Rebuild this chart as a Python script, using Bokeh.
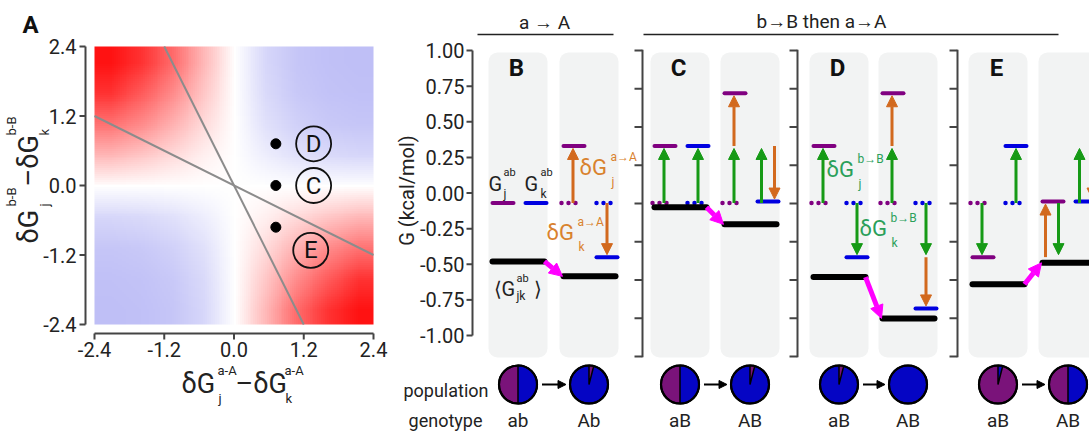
import base64
import struct
import zlib
import numpy as np
from bokeh.plotting import figure
from bokeh.models import (Range1d, Label, Arrow, NormalHead, ColumnDataSource)
from bokeh.core.properties import value
from bokeh.embed import file_html
from bokeh.resources import INLINE

FONT = "Roboto"

# ---------------- data: panel A ----------------
a_ticks = [-2.4, -1.2, 0.0, 1.2, 2.4]
# heat-map cells (rows top -> bottom, columns left -> right)
heat_rows = [
    [0.93, 0.80, 0.58, 0.28, 0.0, -0.60, -0.85, -0.92, -0.95],
    [0.80, 0.64, 0.45, 0.22, 0.0, -0.55, -0.80, -0.90, -0.92],
    [0.55, 0.45, 0.30, 0.14, 0.0, -0.45, -0.68, -0.80, -0.85],
    [0.28, 0.22, 0.14, 0.06, 0.0, -0.25, -0.45, -0.55, -0.60],
    [0.00, 0.00, 0.00, 0.00, 0.0, 0.00, 0.00, 0.00, 0.00],
    [-0.60, -0.55, -0.45, -0.25, 0.0, 0.06, 0.14, 0.22, 0.28],
    [-0.85, -0.80, -0.68, -0.45, 0.0, 0.14, 0.30, 0.45, 0.55],
    [-0.92, -0.90, -0.80, -0.55, 0.0, 0.22, 0.45, 0.64, 0.80],
    [-0.95, -0.92, -0.85, -0.60, 0.0, 0.28, 0.58, 0.80, 0.93],
]
line1_x = [-1.2, 1.2]
line1_y = [2.4, -2.4]
line2_x = [-2.4, 2.4]
line2_y = [1.2, -1.2]
pt_x = [0.72, 0.72, 0.72]
pt_y = [0.72, 0.0, -0.72]
pt_names = ["D", "C", "E"]

# ---------------- data: panels B-E ----------------
panel_names = ["B", "C", "D", "E"]
genotypes = ["ab", "Ab", "aB", "AB", "aB", "AB", "aB", "AB"]
col_mutations = [[], ["a→A"], ["b→B"], ["b→B", "a→A"],
                 ["b→B"], ["b→B", "a→A"], ["b→B"], ["b→B", "a→A"]]
G_ref = -0.07
G_j = [-0.07, 0.33, 0.33, 0.70, 0.33, 0.70, -0.45, -0.06]
G_k = [-0.07, -0.45, 0.33, -0.06, -0.45, -0.81, 0.33, -0.06]
G_avg = [-0.48, -0.585, -0.10, -0.22, -0.59, -0.88, -0.64, -0.49]
frac_j = [0.50, 0.04, 0.50, 0.04, 0.04, 0.00, 0.96, 0.50]
g_ticks = [-1.0, -0.75, -0.5, -0.25, 0.0, 0.25, 0.5, 0.75, 1.0]

# ---------------- styles / layout ----------------
PURPLE = "#800080"
BLUE = "#0000e0"
PIE_P = "#7a137a"
PIE_B = "#0505c4"
GREEN = "#169a16"
GREEN_T = "#2ba05a"
ORANGE = "#d2691e"
ORANGE_T = "#d9822e"
MAGENTA = "#ff00ff"
TXT = "#222222"
AXC = "#444444"

W, H = 1089, 435
AX_X = [472, 642, 797, 957]
COL_L = [488, 559, 650, 720, 809, 878, 968, 1038]
COL_W = 59
PXU = 142.5
Y0PX = 192.5

# panel A pixel geometry
A_X0, A_X1 = 94.0, 373.0      # pixels of -2.4 and 2.4 (horizontal)
A_Y0, A_Y1 = 46.0, 324.0      # pixels of 2.4 and -2.4 (vertical)
SXA = (A_X1 - A_X0) / 4.8
SYA = (A_Y1 - A_Y0) / 4.8


def gy(py):
    return (Y0PX - py) / PXU


def xa(px):
    return -2.4 + (px - A_X0) / SXA


def ya(py):
    return 2.4 - (py - A_Y0) / SYA


def lab(p, x, y, text, size, color=TXT, align="left", baseline="middle",
        bold=False, angle=0.0):
    p.add_layout(Label(x=x, y=y, text=text, text_font=FONT,
                       text_font_size=f"{size}px", text_color=color,
                       text_align=align, text_baseline=baseline,
                       text_font_style="bold" if bold else "normal",
                       angle=angle))


p = figure(width=W, height=H, x_range=Range1d(0, W), y_range=Range1d(gy(H), gy(0)),
           output_backend="svg", toolbar_location=None, tools="", title=None,
           x_axis_location=None, y_axis_location=None, min_border=0)
p.extra_x_ranges = {"xa": Range1d(xa(0), xa(W))}
p.extra_y_ranges = {"ya": Range1d(ya(H), ya(0))}
p.outline_line_color = None
p.grid.visible = False
p.background_fill_color = "white"
p.border_fill_color = "white"

# ================= panel A =================


def colour(v):
    if v < 0:
        t = -v
        c = (255 - t * (255 - 188), 255 - t * (255 - 188), 255 - t * (255 - 246))
    else:
        c = (255, 255 - v * 255, 255 - v * 255)
    return tuple(int(round(q)) for q in c)


def png_url(rows):
    h, w = len(rows), len(rows[0])
    raw = b"".join(b"\x00" + bytes([c for v in r for c in colour(v)]) for r in rows)

    def chunk(tag, data):
        return (struct.pack(">I", len(data)) + tag + data +
                struct.pack(">I", zlib.crc32(tag + data) & 0xffffffff))
    png = (b"\x89PNG\r\n\x1a\n" +
           chunk(b"IHDR", struct.pack(">IIBBBBB", w, h, 8, 2, 0, 0, 0)) +
           chunk(b"IDAT", zlib.compress(raw)) + chunk(b"IEND", b""))
    return "data:image/png;base64," + base64.b64encode(png).decode()


p.image_url(url=[png_url(heat_rows)], x=-2.4, y=2.4, w=4.8, h=4.8, anchor="top_left",
            x_range_name="xa", y_range_name="ya")
p.line(line1_x, line1_y, line_color="#8c8c8c", line_width=2,
       x_range_name="xa", y_range_name="ya")
p.line(line2_x, line2_y, line_color="#8c8c8c", line_width=2,
       x_range_name="xa", y_range_name="ya")
p.scatter(pt_x, pt_y, size=10, fill_color="black", line_color="black",
          x_range_name="xa", y_range_name="ya")
lbl_x = [x + (0.65 if n != "E" else 0.6) for x, n in zip(pt_x, pt_names)]
lbl_y = [y if n != "E" else y - 0.4 for y, n in zip(pt_y, pt_names)]
p.scatter(lbl_x, lbl_y, size=35, fill_color=None, line_color="#111111", line_width=1.8,
          x_range_name="xa", y_range_name="ya")
p.text(lbl_x, lbl_y, text=pt_names, text_font=value(FONT), text_font_size="24px",
       text_color="#111111", text_align="center", text_baseline="middle",
       x_range_name="xa", y_range_name="ya")

# axes of panel A
AXL, AXT = xa(85), xa(79)
AYL, AYT = ya(333), ya(339)
p.segment(x0=AXL, y0=-2.4, x1=AXL, y1=2.4, line_color=AXC, line_width=2,
          x_range_name="xa", y_range_name="ya")
p.segment(x0=[AXT] * 5, y0=a_ticks, x1=[AXL] * 5, y1=a_ticks, line_color=AXC,
          line_width=2, x_range_name="xa", y_range_name="ya")
p.text([AXT] * 5, a_ticks, text=["%.1f" % t for t in a_ticks], x_offset=-3,
       text_font=value(FONT), text_font_size="20px", text_color=TXT,
       text_align="right", text_baseline="middle", x_range_name="xa", y_range_name="ya")
p.segment(x0=-2.4, y0=AYL, x1=2.4, y1=AYL, line_color=AXC, line_width=2,
          x_range_name="xa", y_range_name="ya")
p.segment(x0=a_ticks, y0=[AYL] * 5, x1=a_ticks, y1=[AYT] * 5, line_color=AXC,
          line_width=2, x_range_name="xa", y_range_name="ya")
p.text(a_ticks, [AYT] * 5, text=["%.1f" % t for t in a_ticks], y_offset=2,
       text_font=value(FONT), text_font_size="20px", text_color=TXT,
       text_align="center", text_baseline="top", x_range_name="xa", y_range_name="ya")

lab(p, 22, gy(24), "A", 24, color="#111111", bold=True)
# x label
lab(p, 181, gy(383), "δG", 27)
lab(p, 217, gy(370), "a-A", 13)
lab(p, 218, gy(398), "j", 13)
lab(p, 235, gy(383), "–δG", 27)
lab(p, 284, gy(370), "a-A", 13)
lab(p, 285, gy(398), "k", 13)
# y label (rotated)
R90 = np.pi / 2
lab(p, 28, gy(243), "δG", 27, angle=R90)
lab(p, 44, gy(206), "j", 13, angle=R90)
lab(p, 11, gy(206), "b-B", 13, angle=R90)
lab(p, 28, gy(186), "–δG", 27, angle=R90)
lab(p, 44, gy(135), "k", 13, angle=R90)
lab(p, 11, gy(135), "b-B", 13, angle=R90)

# ================= panels B-E =================
# column backgrounds
p.quad(left=COL_L, right=[l + COL_W for l in COL_L], top=gy(52), bottom=gy(357),
       fill_color="#f2f3f3", line_color=None, border_radius=9)

# energy axis of panel B
BX = AX_X[0]
p.segment(x0=BX, y0=-1.0, x1=BX, y1=1.0, line_color=AXC, line_width=2)
p.segment(x0=[BX - 6] * len(g_ticks), y0=g_ticks, x1=[BX] * len(g_ticks), y1=g_ticks,
          line_color=AXC, line_width=2)
p.text([BX - 6] * len(g_ticks), g_ticks, text=["%.2f" % t for t in g_ticks], x_offset=-2,
       text_font=value(FONT), text_font_size="20px", text_color=TXT,
       text_align="right", text_baseline="middle")
lab(p, 406, gy(190), "G (kcal/mol)", 20, align="center", angle=np.pi / 2)

# plain side axes for C, D, E
side_ticks = np.linspace(1.0, gy(356), 9)
for ax_x in AX_X[1:]:
    p.segment(x0=ax_x, y0=1.0 + 0.006, x1=ax_x, y1=gy(356) - 0.006,
              line_color=AXC, line_width=2)
    p.segment(x0=[ax_x - 8] * 9, y0=side_ticks, x1=[ax_x] * 9, y1=side_ticks,
              line_color=AXC, line_width=2)

# reference (dotted) levels
dj_x0, dj_x1, dj_y, dk_x0, dk_x1, dk_y = [], [], [], [], [], []
for c, L in enumerate(COL_L):
    if abs(G_j[c] - G_ref) > 0.02:
        dj_x0.append(L + 2); dj_x1.append(L + 23); dj_y.append(G_ref)
    if abs(G_k[c] - G_ref) > 0.02:
        dk_x0.append(L + 37); dk_x1.append(L + 58); dk_y.append(G_ref)
p.segment(x0=dj_x0, y0=dj_y, x1=dj_x1, y1=dj_y, line_color=PURPLE, line_width=4.5,
          line_dash="0 7", line_cap="round")
p.segment(x0=dk_x0, y0=dk_y, x1=dk_x1, y1=dk_y, line_color=BLUE, line_width=4.5,
          line_dash="0 7", line_cap="round")

# arrows for mutational effects
arr = {"a→A": dict(x0=[], y0=[], x1=[], y1=[]), "b→B": dict(x0=[], y0=[], x1=[], y1=[])}
TIP = 2.5 / PXU


def add_arrow(mut, x, y0, y1):
    s = 1 if y1 > y0 else -1
    d = arr[mut]
    d["x0"].append(x); d["y0"].append(y0); d["x1"].append(x); d["y1"].append(y1 - s * TIP)


for c, L in enumerate(COL_L):
    muts = col_mutations[c]
    if not muts:
        continue
    for G, slot in ((G_j, L + 13.5), (G_k, L + 47.5)):
        path = [G_ref, G[c]] if len(muts) == 1 else [G_ref, G[c - 1], G[c]]
        steps = list(zip(muts, path[:-1], path[1:]))
        if len(steps) == 1:
            add_arrow(steps[0][0], slot, steps[0][1], steps[0][2])
        else:
            dirs = [np.sign(b - a) for _, a, b in steps]
            for (m, a, b), d in zip(steps, dirs):
                if dirs[0] == dirs[1]:
                    xx = slot
                else:
                    xx = slot - 6.5 if d > 0 else slot + 6.5
                add_arrow(m, xx, a, b)

for mut, col in (("a→A", ORANGE), ("b→B", GREEN)):
    p.add_layout(Arrow(end=NormalHead(size=11, fill_color=col, line_color=col, line_width=1),
                       x_start="x0", y_start="y0", x_end="x1", y_end="y1",
                       source=ColumnDataSource(arr[mut]), line_color=col, line_width=3))

# solid levels
p.segment(x0=[l + 4 for l in COL_L], y0=G_j, x1=[l + 25 for l in COL_L], y1=G_j,
          line_color=PURPLE, line_width=4, line_cap="round")
p.segment(x0=[l + 37 for l in COL_L], y0=G_k, x1=[l + 58 for l in COL_L], y1=G_k,
          line_color=BLUE, line_width=4, line_cap="round")
p.segment(x0=[l + 4 for l in COL_L], y0=G_avg, x1=[l + 56 for l in COL_L], y1=G_avg,
          line_color="black", line_width=6, line_cap="round")

# magenta arrows between genotypes
mg = dict(x0=[COL_L[2 * i] + 56 for i in range(4)], y0=[G_avg[2 * i] for i in range(4)],
          x1=[COL_L[2 * i + 1] + 3 for i in range(4)], y1=[G_avg[2 * i + 1] for i in range(4)])
p.add_layout(Arrow(end=NormalHead(size=13, fill_color=MAGENTA, line_color=MAGENTA, line_width=1),
                   x_start="x0", y_start="y0", x_end="x1", y_end="y1",
                   source=ColumnDataSource(mg), line_color=MAGENTA, line_width=5))

# population pies
pie_x = [l + COL_W / 2 for l in COL_L]
pie_y = gy(384)
base = [PIE_B if f < 0.5 else PIE_P for f in frac_j]
p.scatter(pie_x, [pie_y] * 8, size=38, fill_color=base, line_color="black", line_width=2)
wx, ws, wc = [], [], []
for x, f in zip(pie_x, frac_j):
    share = f if f < 0.5 else 1 - f
    if share <= 0:
        continue
    wx.append(x); ws.append(np.pi / 2 - 2 * np.pi * share)
    wc.append(PIE_P if f < 0.5 else PIE_B)
p.wedge(x=wx, y=[pie_y] * len(wx), radius=19, radius_units="screen", start_angle=ws,
        end_angle=[np.pi / 2] * len(wx), fill_color=wc, line_color="black", line_width=1.5)
p.scatter(pie_x, [pie_y] * 8, size=38, fill_color=None, line_color="black", line_width=2.2)
pa = dict(x0=[pie_x[2 * i] + 24 for i in range(4)], y0=[pie_y] * 4,
          x1=[pie_x[2 * i + 1] - 23 for i in range(4)], y1=[pie_y] * 4)
p.add_layout(Arrow(end=NormalHead(size=8, fill_color="black", line_color="black", line_width=1),
                   x_start="x0", y_start="y0", x_end="x1", y_end="y1",
                   source=ColumnDataSource(pa), line_color="black", line_width=2))
p.text(pie_x, [gy(420)] * 8, text=genotypes, text_font=value(FONT), text_font_size="19px",
       text_color=TXT, text_align="center", text_baseline="middle")
lab(p, 488, gy(390), "population", 18, align="right")
lab(p, 482, gy(420), "genotype", 18, align="right")

# panel letters
for i, n in enumerate(panel_names):
    lab(p, COL_L[2 * i] + 28, gy(67), n, 24, color="#111111", align="center", bold=True)

# headers
lab(p, 544, gy(22), "a → A", 19, align="center")
p.segment(x0=AX_X[0] + 5, y0=gy(34), x1=COL_L[1] + COL_W - 5, y1=gy(34),
          line_color="#222222", line_width=1.5)
lab(p, 821, gy(21), "b→B then a→A", 19, align="center")
p.segment(x0=AX_X[1] + 1, y0=gy(34), x1=COL_L[7] + 20, y1=gy(34),
          line_color="#222222", line_width=1.5)

# level labels, panel B
L0 = COL_L[0]
lab(p, L0, gy(183), "G", 20)
lab(p, L0 + 15, gy(172), "ab", 11)
lab(p, L0 + 15, gy(193), "j", 12)
lab(p, L0 + 36, gy(183), "G", 20)
lab(p, L0 + 52, gy(172), "ab", 11)
lab(p, L0 + 52, gy(193), "k", 12)
lab(p, L0 + 5, gy(288), "⟨G", 20)
lab(p, L0 + 28, gy(278), "ab", 11)
lab(p, L0 + 28, gy(295), "jk", 12)
lab(p, L0 + 45, gy(288), "⟩", 20)


def dlabel(x, py, sup, sub, color):
    lab(p, x, gy(py), "δG", 22, color=color)
    lab(p, x + 31, gy(py - 11), sup, 12, color=color)
    lab(p, x + 32, gy(py + 14), sub, 12, color=color)


dlabel(579, 167, "a→A", "j", ORANGE_T)
dlabel(546, 232, "a→A", "k", ORANGE_T)
dlabel(826, 169, "b→B", "j", GREEN_T)
dlabel(859, 228, "b→B", "k", GREEN_T)

open("out.html", "w").write(file_html(p, INLINE))
